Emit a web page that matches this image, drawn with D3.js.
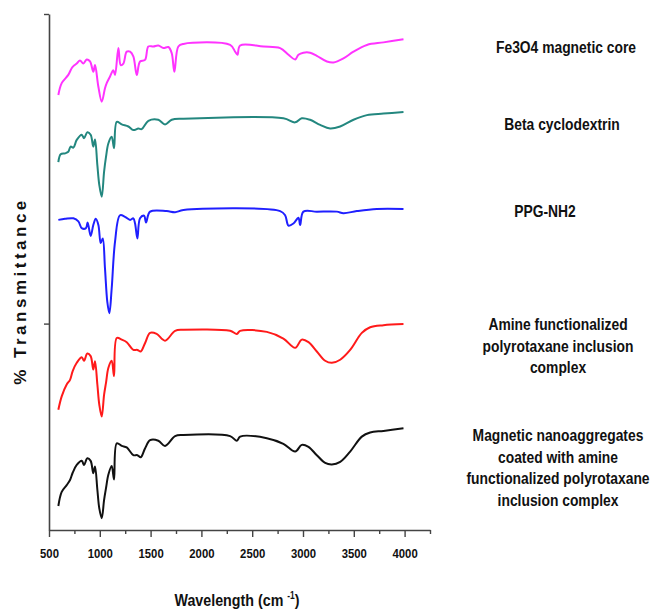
<!DOCTYPE html>
<html>
<head>
<meta charset="utf-8">
<script src="https://cdn.jsdelivr.net/npm/d3@7"></script>
<style>
  body { margin: 0; background: #fff; }
  svg text { font-family: "Liberation Sans", Arial, sans-serif; font-weight: bold; fill: #111; }
</style>
</head>
<body>
<svg id="chart" width="654" height="609"></svg>
<script>
// FTIR spectra, [wavenumber, stacked % transmittance]
const fe3o4 = [[592,84.3],[625,86.6],[690,88.2],[723,89.5],[740,89.9],[773,90.4],[805,91.0],[838,90.4],[871,91.2],[904,90.8],[936,88.8],[953,90.1],[986,85.9],[1019,83.0],[1051,85.6],[1068,86.6],[1101,87.9],[1133,89.1],[1150,88.2],[1183,93.4],[1206,90.1],[1232,90.4],[1265,92.7],[1298,92.7],[1330,91.8],[1364,88.2],[1396,90.8],[1445,91.1],[1478,93.7],[1527,93.7],[1576,93.9],[1626,93.4],[1675,93.6],[1708,92.4],[1734,88.8],[1773,93.7],[1823,94.2],[2283,94.0],[2332,92.7],[2355,92.1],[2381,93.9],[2611,93.7],[2775,93.4],[2857,92.1],[2923,91.2],[2955,92.1],[3004,92.5],[3070,92.5],[3136,91.9],[3235,90.8],[3300,90.6],[3398,91.4],[3497,92.7],[3629,94.0],[3792,94.5],[3989,95.1]];

const betaCD = [[592,71.3],[615,72.8],[658,73.0],[690,73.3],[713,74.3],[740,74.1],[773,75.6],[822,76.6],[845,75.9],[877,77.1],[910,76.6],[936,74.3],[953,75.7],[976,70.7],[995,66.9],[1019,64.6],[1042,69.4],[1061,72.3],[1084,74.9],[1117,76.2],[1140,74.0],[1167,79.1],[1216,78.6],[1281,78.2],[1330,77.5],[1379,77.8],[1412,77.7],[1478,79.3],[1576,79.5],[1642,78.6],[1708,79.5],[1823,79.7],[2807,79.8],[2923,79.0],[2988,79.8],[3070,79.5],[3169,78.5],[3267,77.8],[3366,78.2],[3497,79.5],[3629,80.4],[3792,80.7],[3989,81.0]];

const ppgNH2 = [[592,60.1],[658,60.3],[740,60.4],[789,59.8],[822,58.5],[864,58.5],[880,59.6],[910,57.0],[936,59.1],[960,60.3],[986,59.1],[1009,55.6],[1029,56.5],[1051,50.7],[1074,44.2],[1094,42.0],[1117,46.8],[1150,55.9],[1199,61.0],[1248,60.7],[1298,60.1],[1330,60.4],[1347,59.4],[1370,56.5],[1396,60.4],[1436,60.9],[1455,59.6],[1495,61.7],[1659,61.8],[1741,61.6],[1823,62.0],[2775,61.8],[2824,61.0],[2857,59.0],[2906,59.4],[2955,60.5],[2972,59.1],[3004,61.7],[3136,61.7],[3333,61.7],[3398,61.4],[3530,61.8],[3727,62.2],[3989,62.2]];

const amineIC = [[592,23.3],[625,25.9],[674,28.2],[707,29.1],[733,30.8],[773,32.4],[822,33.5],[845,32.8],[877,34.2],[910,33.7],[936,31.1],[953,32.7],[976,28.2],[995,24.3],[1019,22.0],[1042,26.2],[1061,28.5],[1084,31.4],[1117,32.8],[1140,29.8],[1167,37.2],[1216,36.9],[1265,36.4],[1330,34.9],[1370,34.9],[1403,34.6],[1445,36.2],[1495,38.2],[1560,38.0],[1642,36.7],[1741,38.6],[1823,38.8],[2283,38.6],[2349,38.0],[2381,38.6],[2644,38.4],[2807,37.1],[2923,35.3],[2988,36.9],[3054,36.4],[3136,34.6],[3218,32.8],[3284,32.4],[3366,33.0],[3464,34.9],[3579,38.2],[3661,39.3],[3792,39.7],[3989,39.9]];

const magNano = [[592,4.65],[625,7.4],[674,8.7],[707,9.7],[733,11.1],[773,12.6],[822,13.4],[845,12.6],[877,13.9],[910,13.4],[936,11.0],[953,12.3],[976,7.8],[995,4.2],[1019,2.3],[1042,5.8],[1061,8.1],[1084,10.7],[1117,12.4],[1140,9.8],[1167,16.8],[1216,16.3],[1265,16.0],[1330,14.5],[1370,14.5],[1403,14.1],[1445,15.8],[1495,17.4],[1576,17.3],[1642,16.3],[1741,18.2],[1823,18.4],[2283,18.2],[2349,17.3],[2381,18.1],[2644,17.8],[2807,16.7],[2923,15.2],[2988,16.5],[3054,16.1],[3136,14.5],[3218,13.0],[3284,12.7],[3366,13.2],[3464,15.2],[3579,18.1],[3661,18.9],[3792,19.2],[3989,19.7]];

const seriesNames = [
  ["Fe3O4 magnetic core"],
  ["Beta cyclodextrin"],
  ["PPG-NH2"],
  ["Amine functionalized", "polyrotaxane inclusion", "complex"],
  ["Magnetic nanoaggregates", "coated with amine", "functionalized polyrotaxane", "inclusion complex"]
];
const seriesColors = ["#ff33ff", "#23877f", "#1f1fff", "#ff1a1a", "#111111"];
const xTicks = [500, 1000, 1500, 2000, 2500, 3000, 3500, 4000];
const xMinorTicks = [750, 1250, 1750, 2250, 2750, 3250, 3750, 4250];
const yTicks = [40, 100];

const allSeries = [fe3o4, betaCD, ppgNH2, amineIC, magNano];

// layout
const svg = d3.select("#chart");
const x = d3.scaleLinear().domain([500, 4250]).range([49, 430]);
const y = d3.scaleLinear().domain([0, 100]).range([530, 14]);
const narrow = "scale(0.84,1)";   // stand-in for a condensed bold face

// axes
const axisColor = "#444";
const gx = svg.append("g").attr("transform", "translate(0,530)")
  .call(d3.axisBottom(x).tickValues(xTicks).tickSize(7).tickSizeOuter(0).tickFormat(d3.format("d")));
svg.append("g").attr("transform", "translate(0,530)")
  .call(d3.axisBottom(x).tickValues(xMinorTicks).tickSize(4).tickSizeOuter(0).tickFormat(""))
  .select(".domain").remove();
gx.selectAll("text").attr("dy", "1.3em").attr("transform", narrow).style("font-size", "13.5px");

svg.append("g").attr("transform", "translate(49,0)")
  .call(d3.axisLeft(y).tickValues(yTicks).tickSize(5).tickSizeOuter(0).tickFormat(""));

svg.selectAll(".domain").attr("stroke", axisColor).attr("stroke-width", 1.6);
svg.selectAll(".tick line").attr("stroke", axisColor).attr("stroke-width", 1.4);

// spectra
const line = d3.line().curve(d3.curveCatmullRom.alpha(0.5)).x(d => x(d[0])).y(d => y(d[1]));
svg.selectAll(".spectrum")
  .data(allSeries)
  .join("path")
  .attr("class", "spectrum")
  .attr("d", line)
  .attr("fill", "none")
  .attr("stroke", (d, i) => seriesColors[i])
  .attr("stroke-width", 2)
  .attr("stroke-linejoin", "round");

// labels to the right
const labelPos = [[566, 48], [562, 125], [545, 212], [558, 325], [558, 436]];
const lineGap = 21.5;
seriesNames.forEach((lines, i) => {
  const t = svg.append("g")
    .attr("transform", `translate(${labelPos[i][0]},0) ${narrow}`)
    .append("text")
    .attr("text-anchor", "middle")
    .style("font-size", "16.5px");
  lines.forEach((s, j) => {
    t.append("tspan")
      .attr("x", 0)
      .attr("y", labelPos[i][1] + 5.5 + j * lineGap)
      .text(s);
  });
});

// axis titles
const xt = svg.append("g")
  .attr("transform", `translate(237,0) ${narrow}`)
  .append("text")
  .attr("x", 0).attr("y", 606)
  .attr("text-anchor", "middle")
  .style("font-size", "17px")
  .text("Wavelength (cm ");
xt.append("tspan").attr("dy", -7).style("font-size", "10px").text("-1");
xt.append("tspan").attr("dy", 7).text(")");

svg.append("text")
  .attr("transform", "translate(26,291) rotate(-90)")
  .attr("text-anchor", "middle")
  .style("font-size", "17px")
  .style("letter-spacing", "3.5px")
  .text("% Transmittance");
</script>
</body>
</html>
